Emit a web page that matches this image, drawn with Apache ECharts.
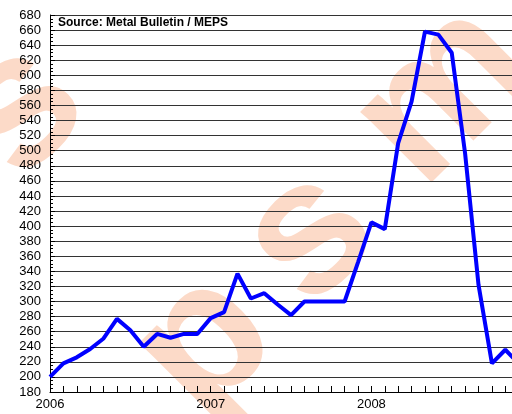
<!DOCTYPE html>
<html>
<head>
<meta charset="utf-8">
<script src="https://cdn.jsdelivr.net/npm/echarts@6/dist/echarts.min.js"></script>
<style>
  html, body { margin: 0; padding: 0; background: #fff; }
  #chart { width: 512px; height: 414px; }
</style>
</head>
<body>
<div id="chart"></div>
<script>
// monthly prices, Jan 2006 .. Dec 2008
var months = ['2006-01','2006-02','2006-03','2006-04','2006-05','2006-06','2006-07','2006-08','2006-09','2006-10','2006-11','2006-12',
              '2007-01','2007-02','2007-03','2007-04','2007-05','2007-06','2007-07','2007-08','2007-09','2007-10','2007-11','2007-12',
              '2008-01','2008-02','2008-03','2008-04','2008-05','2008-06','2008-07','2008-08','2008-09','2008-10','2008-11','2008-12'];
var prices = [200, 218, 226, 237, 251, 277, 262, 240, 257, 252, 257, 257,
              278, 286, 337, 304, 311, 296, 282, 300, 300, 300, 300, 352,
              405, 396, 510, 565, 658, 654, 630, 496, 322, 218, 236, 218];
var yearLabels = {0: '2006', 12: '2007', 24: '2008'};

// background watermark letters
var wmLetters = [
  { ch: 'p', x: 205, y: 345 },
  { ch: 's', x: 310, y: 237 },
  { ch: 'm', x: 445, y: 95 },
  { ch: 's', x: 20, y: 110 }
];

var chart = echarts.init(document.getElementById('chart'));

var graphics = wmLetters.map(function (w) {
  return {
    type: 'text',
    z: -10,
    x: w.x, y: w.y,
    rotation: Math.PI / 4,
    style: {
      text: w.ch,
      font: 'bold 190px "Liberation Sans", Arial, sans-serif',
      fill: '#fcdac8',
      align: 'center',
      verticalAlign: 'middle'
    }
  };
});
graphics.push({
  type: 'text',
  left: 58, top: 17,
  style: {
    text: 'Source: Metal Bulletin / MEPS',
    font: 'bold 12px "Liberation Sans", Arial, sans-serif',
    fill: '#000'
  }
});

chart.setOption({
  animation: false,
  grid: { left: 50, right: 0, top: 15, bottom: 22 },
  graphic: graphics,
  xAxis: {
    type: 'value',
    min: 0,
    max: 34.5,
    interval: 1,
    axisLine: { show: true, onZero: false, lineStyle: { color: '#000', width: 1 } },
    axisTick: { show: true, inside: true, length: 6, lineStyle: { color: '#000' } },
    splitLine: { show: false },
    axisLabel: {
      color: '#000',
      fontSize: 13,
      fontFamily: '"Liberation Sans", Arial, sans-serif',
      margin: 6,
      showMinLabel: true,
      showMaxLabel: false,
      formatter: function (v) { return yearLabels[v] || ''; }
    }
  },
  yAxis: {
    type: 'value',
    min: 180,
    max: 680,
    interval: 20,
    axisLine: { show: true, lineStyle: { color: '#000', width: 1 } },
    axisTick: { show: true, inside: true, length: 5, lineStyle: { color: '#000' } },
    minorTick: { show: true, splitNumber: 4, length: 3, lineStyle: { color: '#000' } },
    splitLine: { show: true, lineStyle: { color: '#333', width: 1 } },
    axisLabel: {
      color: '#000',
      fontSize: 13,
      fontFamily: '"Liberation Sans", Arial, sans-serif',
      margin: 9
    }
  },
  series: [{
    type: 'line',
    data: prices.map(function (v, i) { return [i, v]; }),
    showSymbol: false,
    clip: true,
    lineStyle: { color: '#0000ff', width: 4 }
  }]
});
</script>
</body>
</html>
